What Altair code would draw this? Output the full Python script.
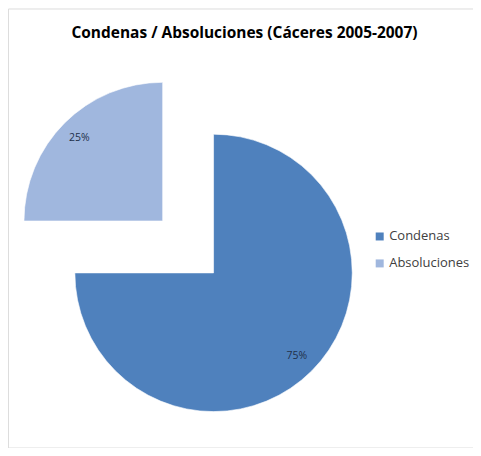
import altair as alt
import pandas as pd

title_text = "Condenas / Absoluciones (Cáceres 2005-2007)"
categories = ["Condenas", "Absoluciones"]
values = [75, 25]
labels = ["75%", "25%"]
order = [0, 1]
colors = ["#4F81BD", "#A0B7DE"]

df = pd.DataFrame({"cat": categories, "value": values, "label": labels, "order": order})

W, H = 466, 440
CX, CY = 206, 265       # centre of the main pie (pixels in plot area)
EX, EY = -51, -52       # explosion offset of the small slice
R = 139
LR = 118
FONT = "Open Sans"

theta_scale = alt.Scale(domain=[0, 100], range=[0, 6.283185307179586])
color = alt.Color(
    "cat:N",
    scale=alt.Scale(domain=categories, range=colors),
    legend=alt.Legend(
        title=None, orient="none", legendX=366, legendY=222,
        symbolType="square", symbolSize=64, symbolStrokeWidth=0,
        labelFont=FONT, labelFontSize=13, labelColor="#404040",
        rowPadding=13, labelOffset=3,
    ),
)

base = alt.Chart(df).transform_stack(
    stack="value", groupby=[], as_=["v0", "v1"], sort=[alt.SortField("order")]
).transform_calculate(mid="(datum.v0 + datum.v1) / 2")


def slice_layer(name, dx, dy):
    sub = base.transform_filter(alt.datum.cat == name)
    arc = sub.mark_arc(radius=R, stroke="#ffffff", strokeWidth=0.6).encode(
        theta=alt.Theta("v0:Q", scale=theta_scale),
        theta2="v1:Q",
        color=color,
        x=alt.value(CX + dx),
        y=alt.value(CY + dy),
    )
    txt = sub.mark_text(radius=LR, font=FONT, fontSize=10.5, color="#22304a").encode(
        theta=alt.Theta("mid:Q", scale=theta_scale),
        text="label:N",
        x=alt.value(CX + dx),
        y=alt.value(CY + dy),
    )
    return arc + txt


title = alt.Chart(pd.DataFrame({"t": [title_text]})).mark_text(
    font=FONT, fontSize=15.5, fontWeight="bold", color="#000000", baseline="middle"
).encode(text="t:N", x=alt.value(237), y=alt.value(25))

chart = alt.layer(
    slice_layer("Condenas", 0, 0),
    slice_layer("Absoluciones", EX, EY),
    title,
).properties(width=W, height=H, padding=0).configure_view(
    stroke="#bfbfbf", strokeWidth=1.5
).configure(background="#ffffff")

chart.save("out.html", embed_options={"renderer": "svg", "actions": False})
